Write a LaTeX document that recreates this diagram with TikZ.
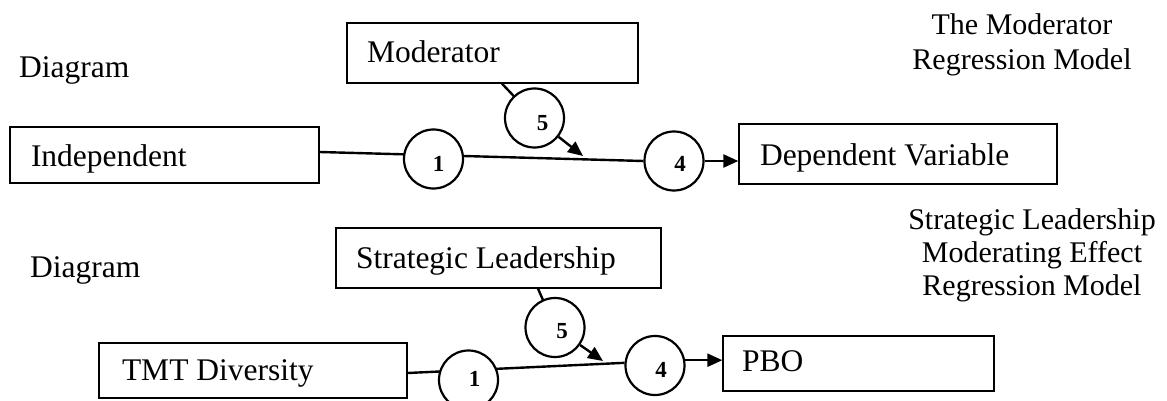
\documentclass[tikz,border=0pt]{standalone}
\usepackage{fontspec}
\setmainfont{Liberation Serif}
\usetikzlibrary{arrows.meta,backgrounds,calc}
\newcommand\mainfs{\fontsize{31.5}{38}\selectfont}
\newcommand\sidefs{\fontsize{30}{33}\selectfont}
\newcommand\digfs{\fontsize{23}{23}\selectfont\bfseries}
\tikzset{
  box/.style={draw, line width=1.3pt, rectangle, inner ysep=0pt, align=flush left, font=\mainfs, text depth=0pt},
  circ/.style={draw, circle, line width=2.2pt, minimum size=59pt, inner sep=0pt, fill=white},
  dig/.style={font=\digfs, inner sep=0pt},
  conn/.style={line width=2.4pt},
  arr/.style={line width=2.4pt, -{Triangle[length=15pt,width=13pt]}},
  side/.style={font=\sidefs, align=center, inner sep=0pt, anchor=north},
  plain/.style={font=\mainfs, inner sep=0pt, anchor=base west},
}
\begin{document}
\begin{tikzpicture}[x=1pt,y=-1pt]
\useasboundingbox (0,0) rectangle (1167,401);
% top diagram
\node[plain] (dg1) at (19,78) {Diagram};
\node[side] (t1) at (1022,13) {The Moderator\\[2pt]Regression Model};
\node[box, text width=251pt, inner xsep=20pt, minimum height=60pt, text height=20pt] (mod) at (492.5,53) {Moderator};
\node[box, text width=267pt, inner xsep=21pt, minimum height=56pt, text height=24pt] (ind) at (164.5,155) {Independent};
\node[box, text width=276pt, inner xsep=21pt, minimum height=60pt, text height=22pt] (dep) at (898,154) {Dependent Variable};
\node[circ] (c1) at (433.5,159) {};
\node[circ] (c5) at (534.5,118) {};
\node[circ] (c4) at (674,161) {};
\node[dig] (d1) at ($(c1)+(5,5)$) {1};
\node[dig] (d5) at ($(c5)+(8,5)$) {5};
\node[dig] (d4) at ($(c4)+(6,3)$) {4};
\coordinate (m1) at (583,156);
% bottom diagram
\node[plain] (dg2) at (30,277) {Diagram};
\node[side] (t2) at (1032,208) {Strategic Leadership\\Moderating Effect\\Regression Model};
\node[box, text width=285pt, inner xsep=20pt, minimum height=60pt, text height=20pt] (sl) at (498.5,258) {Strategic Leadership};
\node[box, text width=262pt, inner xsep=23pt, minimum height=55pt, text height=20pt] (tmt) at (253,370.5) {TMT Diversity};
\node[box, text width=233pt, inner xsep=19pt, minimum height=55pt, text height=15pt] (pbo) at (858.5,363.5) {PBO};
\node[circ] (c1b) at (468.5,380) {};
\node[circ] (c5b) at (555,327.5) {};
\node[circ] (c4b) at (655,365.5) {};
\node[dig] (d1b) at ($(c1b)+(6,-1)$) {1};
\node[dig] (d5b) at ($(c5b)+(7,4)$) {5};
\node[dig] (d4b) at ($(c4b)+(6,4)$) {4};
\coordinate (m2) at (603,361);
\begin{scope}[on background layer]
\fill[white] (0,0) rectangle (1167,401);
\draw[conn] ([yshift=3pt]ind.east) -- (c4.west);
\draw[conn] ([xshift=9.5pt]mod.south) -- (c5.center);
\draw[conn] ([yshift=-2.5pt]tmt.east) -- (c4b.175);
\draw[conn] ([xshift=39.5pt]sl.south) -- (c5b.center);
\end{scope}
\draw[arr] (c5) -- (m1);
\draw[arr] (c4.east) -- (c4.east -| dep.west);
\draw[arr] (c5b) -- (m2);
\draw[arr] (c4b.10) -- (c4b.10 -| pbo.west);
\end{tikzpicture}
\end{document}
